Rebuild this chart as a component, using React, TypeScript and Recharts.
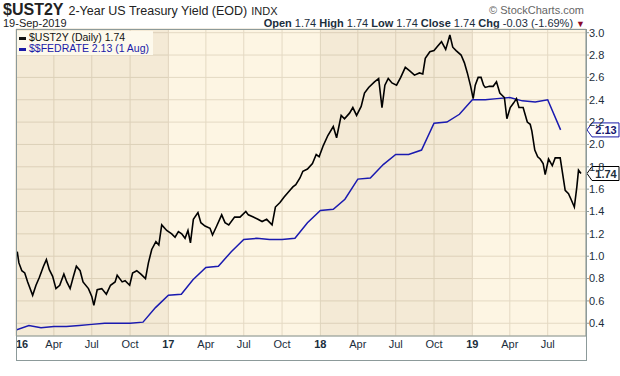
// @ts-nocheck
import {
  LineChart, Line, XAxis, YAxis, CartesianGrid, ReferenceArea, ReferenceLine, Legend,
} from 'recharts';

const ust2y: [string, number][] = [
  ['2016-01-04', 1.04], ['2016-01-08', 0.94], ['2016-01-15', 0.87], ['2016-01-22', 0.85], ['2016-01-29', 0.77],
  ['2016-02-10', 0.65], ['2016-02-18', 0.74], ['2016-02-26', 0.81], ['2016-03-07', 0.91], ['2016-03-14', 0.97],
  ['2016-03-21', 0.88], ['2016-03-29', 0.82], ['2016-04-06', 0.71], ['2016-04-15', 0.74], ['2016-04-25', 0.84],
  ['2016-05-02', 0.77], ['2016-05-10', 0.71], ['2016-05-18', 0.82], ['2016-05-25', 0.91], ['2016-06-03', 0.87],
  ['2016-06-10', 0.77], ['2016-06-23', 0.71], ['2016-07-01', 0.64], ['2016-07-06', 0.56], ['2016-07-14', 0.70],
  ['2016-07-25', 0.71], ['2016-08-05', 0.66], ['2016-08-15', 0.74], ['2016-08-26', 0.77], ['2016-08-31', 0.83],
  ['2016-09-12', 0.77], ['2016-09-19', 0.78], ['2016-09-30', 0.74], ['2016-10-07', 0.85], ['2016-10-17', 0.87],
  ['2016-10-27', 0.84], ['2016-11-07', 0.80], ['2016-11-14', 0.94], ['2016-11-22', 1.06], ['2016-12-02', 1.13],
  ['2016-12-09', 1.10], ['2016-12-16', 1.28], ['2016-12-28', 1.23],
  ['2017-01-09', 1.20], ['2017-01-17', 1.17], ['2017-01-25', 1.22], ['2017-02-02', 1.20], ['2017-02-10', 1.16],
  ['2017-02-17', 1.23], ['2017-02-23', 1.12], ['2017-03-02', 1.33], ['2017-03-13', 1.39], ['2017-03-20', 1.30],
  ['2017-03-30', 1.27], ['2017-04-11', 1.25], ['2017-04-17', 1.19], ['2017-04-27', 1.27], ['2017-05-09', 1.37],
  ['2017-05-17', 1.30], ['2017-05-26', 1.28], ['2017-06-09', 1.35], ['2017-06-22', 1.35], ['2017-07-06', 1.40],
  ['2017-07-12', 1.37], ['2017-07-24', 1.35], ['2017-08-04', 1.33], ['2017-08-14', 1.31], ['2017-08-25', 1.33],
  ['2017-09-07', 1.28], ['2017-09-15', 1.44], ['2017-09-26', 1.48], ['2017-10-06', 1.53], ['2017-10-20', 1.59],
  ['2017-10-27', 1.62], ['2017-11-03', 1.64], ['2017-11-13', 1.70], ['2017-11-20', 1.76], ['2017-12-01', 1.78],
  ['2017-12-13', 1.83], ['2017-12-22', 1.91], ['2017-12-29', 1.89],
  ['2018-01-02', 1.93], ['2018-01-08', 1.99], ['2018-01-19', 2.08], ['2018-02-01', 2.16], ['2018-02-09', 2.06],
  ['2018-02-20', 2.26], ['2018-02-28', 2.23], ['2018-03-12', 2.28], ['2018-03-20', 2.33], ['2018-03-29', 2.26],
  ['2018-04-09', 2.34], ['2018-04-17', 2.46], ['2018-04-27', 2.51], ['2018-05-11', 2.56], ['2018-05-21', 2.59],
  ['2018-05-29', 2.33], ['2018-06-05', 2.53], ['2018-06-13', 2.59], ['2018-06-22', 2.55], ['2018-07-03', 2.53],
  ['2018-07-13', 2.60], ['2018-07-24', 2.69], ['2018-08-03', 2.66], ['2018-08-15', 2.62], ['2018-08-27', 2.64],
  ['2018-09-04', 2.63], ['2018-09-10', 2.77], ['2018-09-21', 2.83], ['2018-10-01', 2.84], ['2018-10-10', 2.88],
  ['2018-10-19', 2.92], ['2018-10-29', 2.85], ['2018-11-02', 2.90], ['2018-11-08', 2.98], ['2018-11-15', 2.87],
  ['2018-11-23', 2.84], ['2018-12-05', 2.80], ['2018-12-13', 2.73], ['2018-12-20', 2.64], ['2018-12-28', 2.52],
  ['2019-01-03', 2.41], ['2019-01-08', 2.53], ['2019-01-15', 2.60], ['2019-01-22', 2.60], ['2019-01-28', 2.53],
  ['2019-02-01', 2.51], ['2019-02-11', 2.52], ['2019-02-20', 2.52], ['2019-02-28', 2.56], ['2019-03-08', 2.46],
  ['2019-03-19', 2.42], ['2019-03-25', 2.23], ['2019-04-02', 2.33], ['2019-04-10', 2.37], ['2019-04-17', 2.41],
  ['2019-04-23', 2.33], ['2019-05-03', 2.33], ['2019-05-13', 2.20], ['2019-05-20', 2.18], ['2019-05-24', 2.12],
  ['2019-05-31', 1.95], ['2019-06-07', 1.89], ['2019-06-13', 1.87], ['2019-06-20', 1.83], ['2019-06-25', 1.73],
  ['2019-07-03', 1.87], ['2019-07-12', 1.81], ['2019-07-19', 1.88], ['2019-07-31', 1.88], ['2019-08-05', 1.76],
  ['2019-08-12', 1.59], ['2019-08-20', 1.56], ['2019-08-26', 1.51], ['2019-09-03', 1.44], ['2019-09-09', 1.62],
  ['2019-09-13', 1.77], ['2019-09-19', 1.74],
];

// $$FEDRATE monthly
const fedMonths = [
  '2016-01', '2016-02', '2016-03', '2016-04', '2016-05', '2016-06', '2016-07', '2016-08', '2016-09', '2016-10', '2016-11', '2016-12',
  '2017-01', '2017-02', '2017-03', '2017-04', '2017-05', '2017-06', '2017-07', '2017-08', '2017-09', '2017-10', '2017-11', '2017-12',
  '2018-01', '2018-02', '2018-03', '2018-04', '2018-05', '2018-06', '2018-07', '2018-08', '2018-09', '2018-10', '2018-11', '2018-12',
  '2019-01', '2019-02', '2019-03', '2019-04', '2019-05', '2019-06', '2019-07', '2019-08',
];
const fedValues = [
  0.34, 0.38, 0.36, 0.37, 0.37, 0.38, 0.39, 0.40, 0.40, 0.40, 0.41, 0.54,
  0.65, 0.66, 0.79, 0.90, 0.91, 1.04, 1.15, 1.16, 1.15, 1.15, 1.16, 1.30,
  1.41, 1.42, 1.51, 1.69, 1.70, 1.82, 1.91, 1.91, 1.95, 2.19, 2.20, 2.27,
  2.40, 2.40, 2.41, 2.42, 2.39, 2.38, 2.40, 2.13,
];

const xTickDates = [
  '2016-01-01', '2016-04-01', '2016-07-01', '2016-10-01',
  '2017-01-01', '2017-04-01', '2017-07-01', '2017-10-01',
  '2018-01-01', '2018-04-01', '2018-07-01', '2018-10-01',
  '2019-01-01', '2019-04-01', '2019-07-01',
];
const monthNames = ['Jan', 'Feb', 'Mar', 'Apr', 'May', 'Jun', 'Jul', 'Aug', 'Sep', 'Oct', 'Nov', 'Dec'];
const yTicks = [0.4, 0.6, 0.8, 1.0, 1.2, 1.4, 1.6, 1.8, 2.0, 2.2, 2.4, 2.6, 2.8, 3.0];
const shadedYears = [2016, 2018];

const ts = (s: string) => {
  const [y, m, d] = s.split('-').map(Number);
  return Date.UTC(y, m - 1, d || 1);
};

const ustData = ust2y.map(([d, v]) => ({ t: ts(d), v }));
const fedData = fedMonths.map((m, i) => ({ t: ts(m), v: fedValues[i] }));
const lastUst = ust2y[ust2y.length - 1][1];
const lastFed = fedValues[fedValues.length - 1];

const FONT = '"Liberation Sans", Arial, sans-serif';
const INK = '#1b2e3c';
const X0 = Date.UTC(2016, 0, 1);
const X1 = Date.UTC(2019, 9, 1);

const XTick = ({ x, y, payload, index }: any) => {
  const d = new Date(payload.value);
  const isYear = d.getUTCMonth() === 0;
  const label = isYear ? String(d.getUTCFullYear()).slice(2) : monthNames[d.getUTCMonth()];
  return (
    <text
      x={x}
      y={y + 10}
      textAnchor={index === 0 ? 'start' : 'middle'}
      fontFamily={FONT}
      fontSize={11}
      fontWeight={isYear ? 700 : 400}
      fill={INK}
    >
      {label}
    </text>
  );
};

const Tag = ({ viewBox, value, color }: any) => {
  const x = viewBox.x + viewBox.width;
  const y = viewBox.y;
  return (
    <g>
      <polygon
        points={`${x + 1},${y} ${x + 6},${y - 7} ${x + 33},${y - 7} ${x + 33},${y + 7} ${x + 6},${y + 7}`}
        fill="#ffffff"
        stroke={color}
        strokeWidth={1}
      />
      <text x={x + 20} y={y + 4} textAnchor="middle" fontFamily={FONT} fontSize={11} fontWeight={700} fill={color === '#000000' ? INK : '#16166e'}>
        {value.toFixed(2)}
      </text>
    </g>
  );
};

const LegendBox = () => (
  <div style={{ background: '#fdf9ec', padding: '1px 4px 1px 2px', fontFamily: FONT, fontSize: 10.5, lineHeight: '11px', whiteSpace: 'nowrap' }}>
    <div style={{ color: '#111' }}>
      <span style={{ display: 'inline-block', width: 7, height: 3, background: '#111', verticalAlign: 'middle', marginRight: 3 }} />
      $UST2Y (Daily) {lastUst.toFixed(2)}
    </div>
    <div style={{ color: '#1a1aa8' }}>
      <span style={{ display: 'inline-block', width: 7, height: 3, background: '#1a1aa8', verticalAlign: 'middle', marginRight: 3 }} />
      $$FEDRATE {lastFed.toFixed(2)} (1 Aug)
    </div>
  </div>
);

export default function App() {
  return (
    <div style={{ position: 'absolute', left: 0, top: 0, width: 620, height: 376, background: '#fff', fontFamily: FONT }}>
      <div style={{ position: 'absolute', left: 3, top: 2, whiteSpace: 'nowrap', color: '#222', lineHeight: '16px' }}>
        <span style={{ fontSize: 16, fontWeight: 700 }}>$UST2Y</span>
        <span style={{ fontSize: 12.5, marginLeft: 5 }}>2-Year US Treasury Yield (EOD)</span>
        <span style={{ fontSize: 11, marginLeft: 4 }}>INDX</span>
      </div>
      <div style={{ position: 'absolute', left: 3, top: 18, fontSize: 11, lineHeight: '11px', color: '#222' }}>19-Sep-2019</div>
      <div style={{ position: 'absolute', right: 36, top: 4, fontSize: 11, lineHeight: '12px', color: '#666' }}>© StockCharts.com</div>
      <div style={{ position: 'absolute', right: 35, top: 17, fontSize: 11, lineHeight: '12px', color: INK, whiteSpace: 'nowrap' }}>
        <b>Open</b> 1.74 <b>High</b> 1.74 <b>Low</b> 1.74 <b>Close</b> 1.74 <b>Chg</b> -0.03 (-1.69%)
        <span style={{ color: '#8b0a2a', fontSize: 9, marginLeft: 3 }}>▼</span>
      </div>

      <div style={{ position: 'absolute', left: 0, top: 0 }}>
        <LineChart width={620} height={376} margin={{ top: 29, right: 0, bottom: 0, left: 16 }}>
          <CartesianGrid stroke="#e4d9c3" fill="#fdf5e3" />
          {shadedYears.map((yr) => (
            <ReferenceArea
              key={yr}
              x1={Math.max(X0, Date.UTC(yr, 0, 1))}
              x2={Date.UTC(yr + 1, 0, 1)}
              fill="#6a4a10"
              fillOpacity={0.06}
              stroke="none"
              ifOverflow="hidden"
            />
          ))}
          <XAxis
            type="number"
            dataKey="t"
            domain={[X0, X1]}
            ticks={xTickDates.map(ts)}
            interval={0}
            tick={<XTick />}
            tickLine={false}
            tickSize={0}
            axisLine={{ stroke: '#8c9a9a' }}
            height={16}
            allowDataOverflow
          />
          <YAxis
            orientation="right"
            type="number"
            domain={[0.286, 3.033]}
            ticks={yTicks}
            interval={0}
            tickFormatter={(v) => v.toFixed(1)}
            tick={{ fontSize: 11, fill: INK, fontFamily: FONT }}
            tickSize={3}
            tickMargin={0}
            tickLine={{ stroke: '#8c9a9a' }}
            axisLine={{ stroke: '#8c9a9a' }}
            width={34}
            allowDataOverflow
          />
          <Line data={fedData} dataKey="v" type="linear" stroke="#1a1ab0" strokeWidth={1.5} dot={false} isAnimationActive={false} />
          <Line data={ustData} dataKey="v" type="linear" stroke="#000000" strokeWidth={1.6} dot={false} isAnimationActive={false} />
          <ReferenceLine y={lastFed} stroke="none" label={<Tag value={lastFed} color="#1a1aa8" />} />
          <ReferenceLine y={lastUst} stroke="none" label={<Tag value={lastUst} color="#000000" />} />
          <Legend content={<LegendBox />} wrapperStyle={{ position: 'absolute', top: 31, left: 17, width: 'auto' }} />
        </LineChart>
      </div>
      <div style={{ position: 'absolute', left: 16, top: 29, width: 571, height: 332, border: '1px solid #8c9a9a', boxSizing: 'border-box', pointerEvents: 'none' }} />
    </div>
  );
}
